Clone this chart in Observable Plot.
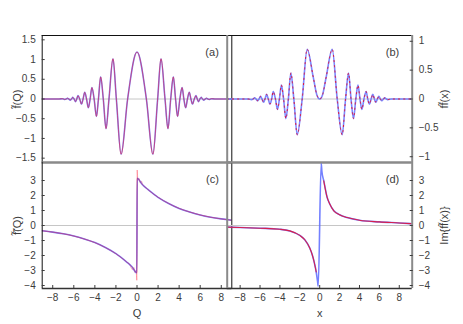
<!DOCTYPE html>
<html><head><meta charset="utf-8">
<script src="https://cdn.jsdelivr.net/npm/d3@7"></script>
<script src="https://cdn.jsdelivr.net/npm/@observablehq/plot@0.6"></script>
<style>
html,body{margin:0;padding:0;background:#fff;}
#chart{position:relative;width:463px;height:324px;overflow:hidden;background:#fff;}
#chart svg{position:absolute;left:0;top:0;}
</style></head><body><div id="chart"></div>
<script>
// ---------- data ----------
// panel (a): f~(Q)
const qA = [-9, -7.4, -7.1, -6.97, -6.85, -6.72, -6.6, -6.47, -6.35, -6.22, -6.1, -5.97, -5.84, -5.72, -5.6, -5.44, -5.27, -5.12, -4.96, -4.79, -4.62, -4.45, -4.28, -4.07, -3.85, -3.66, -3.45, -3.2, -2.94, -2.66, -2.28, -1.96, -1.51, -0.89, 0, 0.89, 1.51, 1.96, 2.28, 2.66, 2.94, 3.2, 3.45, 3.66, 3.85, 4.07, 4.28, 4.45, 4.62, 4.79, 4.96, 5.12, 5.27, 5.44, 5.6, 5.72, 5.84, 5.97, 6.1, 6.22, 6.35, 6.47, 6.6, 6.72, 6.85, 6.97, 7.1, 7.4, 9];
const fA = [0, 0, 0.008, 0, -0.012, 0, 0.02, 0, -0.03, 0, 0.04, 0, -0.066, 0, 0.085, 0, -0.13, 0, 0.17, 0, -0.22, 0, 0.29, 0, -0.44, 0, 0.56, 0, -0.75, 0, 1.02, 0, -1.40, 0, 1.19, 0, -1.40, 0, 1.02, 0, -0.75, 0, 0.56, 0, -0.44, 0, 0.29, 0, -0.22, 0, 0.17, 0, -0.13, 0, 0.085, 0, -0.066, 0, 0.04, 0, -0.03, 0, 0.02, 0, -0.012, 0, 0.008, 0, 0];

// panel (b): ff~(x)
const xB = [-9.3, -7.2, -6.85, -6.7, -6.55, -6.4, -6.25, -6.1, -5.95, -5.8, -5.64, -5.5, -5.34, -5.17, -5.0, -4.83, -4.67, -4.45, -4.24, -4.05, -3.85, -3.63, -3.4, -3.15, -2.9, -2.6, -2.26, -1.76, -1.26, -0.65, -0.3, 0, 0.3, 0.65, 1.26, 1.76, 2.26, 2.6, 2.9, 3.15, 3.4, 3.63, 3.85, 4.05, 4.24, 4.45, 4.67, 4.83, 5.0, 5.17, 5.34, 5.5, 5.64, 5.8, 5.95, 6.1, 6.25, 6.4, 6.55, 6.7, 6.85, 7.2, 9.3];
const fB = [0, 0, -0.01, 0, 0.02, 0, -0.03, 0, 0.045, 0, -0.055, 0, 0.08, 0, -0.09, 0, 0.13, 0, -0.18, 0, 0.24, 0, -0.34, 0, 0.45, 0, -0.62, 0, 0.86, 0.38, 0.08, 0, 0.08, 0.38, 0.86, 0, -0.62, 0, 0.45, 0, -0.34, 0, 0.24, 0, -0.18, 0, 0.13, 0, -0.09, 0, 0.08, 0, -0.055, 0, 0.045, 0, -0.03, 0, 0.02, 0, -0.01, 0, 0];

// panel (c): f~(Q), reconstruction (blue) and truncated series (red)
const qC = [-9, -8, -7, -6, -5, -4, -3, -2, -1, -0.5, -0.02, 0.02, 0.5, 1, 2, 3, 4, 5, 6, 7, 8, 9];
const fC = [-0.35, -0.44, -0.55, -0.7, -0.9, -1.14, -1.47, -1.88, -2.42, -2.73, -3.15, 3.15, 2.73, 2.42, 1.88, 1.47, 1.14, 0.9, 0.7, 0.55, 0.44, 0.35];
const qCr = [-9, -8, -7, -6, -5, -4, -3, -2, -1, -0.7, -0.55, -0.42, -0.3, -0.18, -0.08, -0.02, 0.02, 0.08, 0.18, 0.3, 0.42, 0.55, 0.7, 1, 2, 3, 4, 5, 6, 7, 8, 9];
const fCr = [-0.35, -0.44, -0.55, -0.7, -0.9, -1.14, -1.47, -1.88, -2.42, -2.6, -2.82, -2.95, -2.8, -3.15, -3.0, -3.65, 3.7, 3.0, 3.15, 2.85, 2.95, 2.72, 2.62, 2.42, 1.88, 1.47, 1.14, 0.9, 0.7, 0.55, 0.44, 0.35];

// panel (d): Im{ff~(x)}
const xD = [-9.3, -8, -6, -4, -3, -2, -1.5, -1, -0.75, -0.55, -0.35, -0.22, -0.15, 0.15, 0.22, 0.41, 0.75, 1, 1.42, 2, 2.76, 4, 6, 8, 9.3];
const fD = [-0.11, -0.13, -0.18, -0.25, -0.36, -0.66, -0.95, -1.5, -1.95, -2.45, -3.1, -3.7, -4.05, 4.15, 3.6, 2.98, 1.87, 1.45, 0.98, 0.72, 0.53, 0.35, 0.24, 0.17, 0.12];
const xDr = [-9.3, -8, -6, -4, -3, -2, -1.5, -1, -0.75, -0.55, -0.35, 0, 0.41, 0.75, 1, 1.42, 2, 2.76, 4, 6, 8, 9.3];
const fDr = [-0.11, -0.13, -0.18, -0.25, -0.36, -0.66, -0.95, -1.5, -1.95, -2.45, -3.1, null, 2.98, 1.87, 1.45, 0.98, 0.72, 0.53, 0.35, 0.24, 0.17, 0.12];

// ticks and labels
const xTicks = [-8, -6, -4, -2, 0, 2, 4, 6, 8];
const yTicksA = [-1.5, -1, -0.5, 0, 0.5, 1, 1.5];
const yTicksB = [-1, -0.5, 0, 0.5, 1];
const yTicksCD = [-4, -3, -2, -1, 0, 1, 2, 3];
const tags = ["(a)", "(b)", "(c)", "(d)"];
const yLabels = ["f\u0303(Q)", "ff\u0303(x)", "f\u0303\u0303(Q)", "Im{ff\u0303(x)}"];
const xLabels = ["Q", "x"];

// ---------- drawing ----------
const W = 463, H = 324;
const FONT = "'Liberation Sans', Arial, sans-serif";
const INK = "#3c3c3c";
const BLUE = "#5a6aff", RED = "#e2143a";
const minus = d => String(d).replace("-", "\u2212");
const rows = (xs, ys) => xs.map((x, i) => ({x, y: ys[i]}));

const L = {l: 41.7, r: 231.3}, R = {l: 226.7, r: 411.7};
const TOP = {t: 35, b: 162}, BOT = {t: 162, b: 288};

function panel({cols, rowsBox, xDomain, yDomain, yTicks, yAnchor, xAxis, series, tag, yLabel, xLabel, edges}) {
  const marks = [];
  marks.push(Plot.ruleY([0], {stroke: "#c6c6c6", strokeWidth: 1}));
  for (const s of series) {
    marks.push(Plot.line(s.data, {x: "x", y: "y", stroke: s.color, strokeWidth: s.width,
      strokeOpacity: s.opacity ?? 1, strokeDasharray: s.dash, curve: "monotone-x", clip: true}));
  }
  // frame edges
  marks.push(Plot.ruleY([yDomain[1]], {stroke: edges.top[0], strokeWidth: edges.top[1]}));
  marks.push(Plot.ruleY([yDomain[0]], {stroke: edges.bottom[0], strokeWidth: edges.bottom[1]}));
  marks.push(Plot.ruleX([xDomain[0]], {stroke: edges.left[0], strokeWidth: edges.left[1]}));
  marks.push(Plot.ruleX([xDomain[1]], {stroke: edges.right[0], strokeWidth: edges.right[1]}));
  marks.push(Plot.axisY(yTicks, {anchor: yAnchor, tickSize: -3, tickPadding: 9.5, tickFormat: minus, fontSize: 10, label: null}));
  if (xAxis) marks.push(Plot.axisX(xTicks, {anchor: "bottom", tickSize: -3, tickPadding: 8.5, tickFormat: minus, fontSize: 10, label: null}));
  marks.push(Plot.text([tag], {frameAnchor: "top-right", dx: -13, dy: 17, fontSize: 11, textAnchor: "end", lineAnchor: "middle"}));
  marks.push(Plot.text([yLabel], {frameAnchor: yAnchor, dx: yAnchor === "left" ? -25 : 32, rotate: -90, fontSize: 11, textAnchor: "middle", lineAnchor: "middle"}));
  if (xLabel) marks.push(Plot.text([xLabel], {frameAnchor: "bottom", dy: 25, fontSize: 11, lineAnchor: "middle"}));
  return Plot.plot({
    width: W, height: H,
    marginLeft: cols.l, marginRight: W - cols.r, marginTop: rowsBox.t, marginBottom: H - rowsBox.b,
    x: {domain: xDomain, axis: null},
    y: {domain: yDomain, axis: null},
    style: {background: "transparent", fontFamily: FONT, color: INK, overflow: "visible"},
    marks
  });
}

const chart = document.getElementById("chart");
const blk = ["#111", 1], gry = ["#8a8a8a", 2], dark = ["#333", 1.3];

chart.append(panel({cols: L, rowsBox: TOP, xDomain: [-9, 9], yDomain: [-1.61, 1.61], yTicks: yTicksA, yAnchor: "left",
  series: [{data: rows(qA, fA), color: BLUE, width: 1.6, opacity: 0.75}, {data: rows(qA, fA), color: RED, width: 0.8, opacity: 0.75}],
  tag: tags[0], yLabel: yLabels[0], edges: {top: blk, bottom: gry, left: blk, right: blk}}));
chart.append(panel({cols: R, rowsBox: TOP, xDomain: [-9.3, 9.3], yDomain: [-1.1, 1.1], yTicks: yTicksB, yAnchor: "right",
  series: [{data: rows(xB, fB), color: BLUE, width: 1.6, opacity: 0.8}, {data: rows(xB, fB), color: RED, width: 1, dash: "1.2,4"}],
  tag: tags[1], yLabel: yLabels[1], edges: {top: blk, bottom: gry, left: gry, right: gry}}));
chart.append(panel({cols: L, rowsBox: BOT, xDomain: [-9, 9], yDomain: [-4.2, 4.2], yTicks: yTicksCD, yAnchor: "left", xAxis: true,
  series: [{data: rows(qCr, fCr), color: "#ff7080", width: 0.9, opacity: 0.7}, {data: rows(qC, fC), color: BLUE, width: 1.6, opacity: 0.8}, {data: rows(qC, fC), color: RED, width: 0.8, opacity: 0.6}],
  tag: tags[2], yLabel: yLabels[2], xLabel: xLabels[0], edges: {top: gry, bottom: dark, left: blk, right: blk}}));
chart.append(panel({cols: R, rowsBox: BOT, xDomain: [-9.3, 9.3], yDomain: [-4.2, 4.2], yTicks: yTicksCD, yAnchor: "right", xAxis: true,
  series: [{data: rows(xD, fD), color: BLUE, width: 1.6, opacity: 0.85}, {data: rows(xD, fD).filter((d, i) => true) && rows(xDr, fDr), color: RED, width: 1.1, opacity: 0.9}],
  tag: tags[3], yLabel: yLabels[3], xLabel: xLabels[1], edges: {top: gry, bottom: dark, left: gry, right: gry}}));
</script></body></html>
